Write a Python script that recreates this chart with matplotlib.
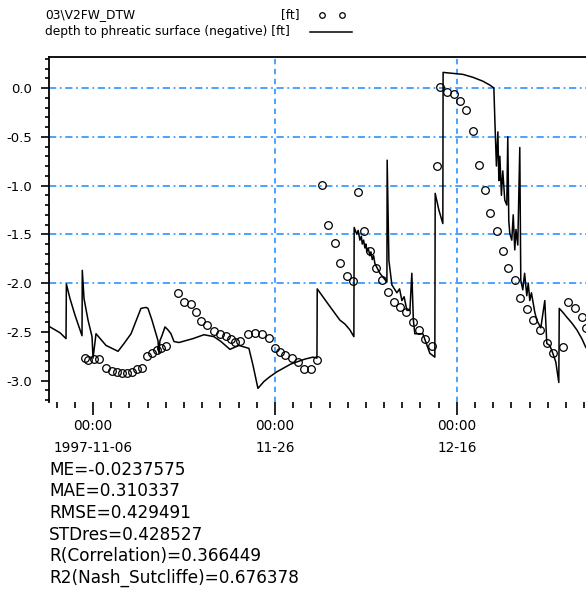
import matplotlib
matplotlib.use("Agg")
import matplotlib.pyplot as plt
import numpy as np
import datetime as dt

# ---- data (days since 1997-11-06 00:00, values in ft) ----
base = dt.datetime(1997, 11, 6)
obs_days = [-0.88, -0.55, 0.11, 0.66, 1.43, 2.09, 2.64, 3.19, 3.74, 4.29, 4.84, 5.38,
            5.93, 6.48, 7.03, 7.47, 8.02, 9.34, 10.0, 10.77, 11.32, 11.87, 12.53,
            13.30, 13.96, 14.62, 15.16, 15.60, 16.15, 17.03, 17.80, 18.57, 19.34,
            20.0, 20.55, 21.10, 21.87, 22.53, 23.19, 23.96, 24.62, 25.16, 25.82,
            26.59, 27.14, 27.91, 28.57, 29.12, 29.78, 30.44, 31.1, 31.76, 32.42,
            33.08, 33.74, 34.40, 35.16, 35.82, 36.48, 37.25, 37.80, 38.13, 38.90,
            39.67, 40.33, 40.99, 41.76, 42.42, 43.08, 43.63, 44.40, 45.05, 45.60,
            46.37, 46.92, 47.69, 48.35, 49.1, 49.9, 50.55, 51.65, 52.20, 52.97,
            53.74, 54.18]
obs_vals = [-2.77, -2.79, -2.78, -2.78, -2.87, -2.90, -2.91, -2.92, -2.92, -2.91, -2.88, -2.87,
            -2.75, -2.72, -2.69, -2.67, -2.65, -2.10, -2.19, -2.21, -2.30, -2.39, -2.43,
            -2.49, -2.52, -2.54, -2.57, -2.60, -2.59, -2.52, -2.51, -2.52, -2.56,
            -2.67, -2.71, -2.74, -2.77, -2.81, -2.88, -2.88, -2.79, -0.99, -1.40,
            -1.59, -1.79, -1.93, -1.98, -1.07, -1.47, -1.67, -1.85, -1.97, -2.09,
            -2.19, -2.25, -2.30, -2.40, -2.48, -2.57, -2.65, -0.80, 0.01, -0.04,
            -0.06, -0.13, -0.23, -0.44, -0.79, -1.05, -1.28, -1.47, -1.67, -1.85,
            -1.97, -2.15, -2.27, -2.38, -2.48, -2.62, -2.72, -2.66, -2.19, -2.26,
            -2.35, -2.46]

sim_days = [-4.73, -4.18, -3.63, -2.97, -2.93, -2.53, -1.98, -1.43, -1.21, -1.18, -0.99,
            -0.55, -0.11, 0.0, 0.33, 1.43, 2.75, 3.41, 4.18, 5.27, 5.82, 6.04, 6.48,
            7.14, 7.25, 7.36, 7.58, 7.91, 8.24, 8.57, 8.90, 9.45, 10.99, 12.20, 13.30,
            14.07, 15.05, 16.04, 17.14, 17.58, 18.13, 18.79, 19.45, 20.22, 21.76,
            23.30, 24.18, 24.62, 24.65, 26.04, 27.14, 27.69, 28.24, 28.68, 28.71,
            29.0, 29.15, 29.34, 29.5, 29.6, 29.75, 29.89, 30.0, 30.1, 30.25, 30.44,
            30.55, 30.7, 30.85, 30.99, 31.54, 32.31, 32.34, 32.53,
            32.86, 33.41, 33.7, 33.96, 34.2, 34.51, 34.84, 35.05, 35.22, 35.38, 35.93,
            36.26, 37.03, 37.58, 37.62, 38.02, 38.46, 38.49, 39.56, 40.66, 41.76,
            42.86, 43.63, 44.07, 44.18, 44.35, 44.51, 44.62, 44.73, 44.9, 45.05,
            45.27, 45.49, 45.60, 45.71, 45.82, 46.04, 46.2, 46.37, 46.5, 46.70,
            46.92, 47.03, 47.25, 47.45, 47.69, 47.85, 48.02, 48.2,
            48.57, 48.79, 49.23, 49.67, 49.89, 50.22, 50.55, 50.88, 51.21, 51.26,
            51.65, 52.09, 52.64, 53.19, 53.74, 54.18]
sim_vals = [-2.45, -2.48, -2.51, -2.57, -2.01, -2.16, -2.33, -2.48, -2.54, -1.87, -2.16,
            -2.38, -2.55, -2.77, -2.52, -2.64, -2.70, -2.62, -2.52, -2.26, -2.25, -2.26, -2.38,
            -2.59, -2.72, -2.59, -2.54, -2.45, -2.48, -2.52, -2.60, -2.61, -2.57, -2.53, -2.55,
            -2.60, -2.68, -2.64, -2.67, -2.84, -3.08, -3.01, -2.96, -2.91, -2.83,
            -2.78, -2.76, -2.77, -2.06, -2.24, -2.38, -2.42, -2.48, -2.55, -1.43,
            -1.50, -1.46, -1.56, -1.52, -1.60, -1.56, -1.64, -1.60, -1.68, -1.64, -1.72,
            -1.68, -1.76, -1.72, -1.80, -1.90, -1.99, -0.74, -1.77,
            -2.02, -2.10, -2.06, -2.18, -2.14, -2.28, -2.28, -1.90, -2.38, -2.52, -2.52,
            -2.52, -2.72, -2.76, -1.08, -1.25, -1.39, 0.16, 0.15, 0.14, 0.11,
            0.07, 0.03, 0.0, -0.33, -0.80, -0.45, -0.95, -0.70, -1.10, -0.85,
            -1.15, -1.20, -0.50, -1.36, -1.49, -1.56, -1.30, -1.66, -1.45, -1.61,
            -0.61, -1.97, -2.07, -1.90, -2.13, -2.00, -2.18, -2.10,
            -2.30, -2.38, -2.46, -2.18, -2.62, -2.64, -2.72, -2.81, -3.02, -2.26,
            -2.30, -2.35, -2.41, -2.48, -2.57, -2.66]

ytick_vals = [0.0, -0.5, -1.0, -1.5, -2.0, -2.5, -3.0]
ytick_labels = ["0.0", "-0.5", "-1.0", "-1.5", "-2.0", "-2.5", "-3.0"]
grid_y = [0.0, -0.5, -1.0, -1.5, -2.0]
xtick_dates = [dt.datetime(1997, 11, 6), dt.datetime(1997, 11, 26), dt.datetime(1997, 12, 16)]
xtick_labels = ["00:00\n1997-11-06", "00:00\n11-26", "00:00\n12-16"]
grid_x = [dt.datetime(1997, 11, 26), dt.datetime(1997, 12, 16)]

series_obs = "03\\V2FW_DTW"
series_sim = "depth to phreatic surface (negative)"
unit = "[ft]"
stats = ["ME=-0.0237575", "MAE=0.310337", "RMSE=0.429491", "STDres=0.428527",
         "R(Correlation)=0.366449", "R2(Nash_Sutcliffe)=0.676378"]

obs_t = [base + dt.timedelta(days=d) for d in obs_days]
sim_t = [base + dt.timedelta(days=d) for d in sim_days]

plt.rcParams['font.family'] = ['DejaVu Sans']
fig = plt.figure(figsize=(5.86, 6.04), dpi=100)
ax = fig.add_axes([49/586, 202/604, 1 - 49/586, 345/604])

gridc = '#3d9bff'
for gy in grid_y:
    ax.axhline(gy, color=gridc, lw=1.3, ls=(0, (4, 2, 1, 2)), zorder=1)
for gx in grid_x:
    ax.axvline(gx, color=gridc, lw=1.3, ls=(0, (3, 2.5)), zorder=1, clip_on=False)

ax.plot(sim_t, sim_vals, color='black', lw=1.1, zorder=3)
ax.plot(obs_t, obs_vals, ls='none', marker='o', ms=5.5, mfc='none', mec='black', mew=0.9, zorder=4)

ax.set_xlim(base + dt.timedelta(days=-4.84), base + dt.timedelta(days=54.2))
ax.set_ylim(-3.22, 0.318)

ax.set_yticks(ytick_vals)
ax.set_yticklabels(ytick_labels, fontsize=9.5)
ax.set_yticks(np.arange(-3.2, 0.35, 0.1), minor=True)
ax.set_xticks(xtick_dates)
ax.set_xticklabels(xtick_labels, fontsize=9.8, linespacing=1.75)
ax.set_xticks([base + dt.timedelta(days=k) for k in range(-4, 55, 2)], minor=True)

ax.tick_params(axis='y', which='major', length=6, width=1.2, direction='out', pad=6)
ax.tick_params(axis='y', which='minor', length=3, width=1.2, direction='out')
ax.tick_params(axis='x', which='major', length=9, width=1.2, direction='out', pad=3)
ax.tick_params(axis='x', which='minor', length=4, width=1.2, direction='out', pad=3)

for s in ['right', 'bottom']:
    ax.spines[s].set_visible(False)
ax.spines['left'].set_linewidth(1.3)
ax.spines['top'].set_linewidth(1.3)

# legend (manual, as in the reference)
fs_leg = 8.8
fig.text(45/586, 1 - 15/604, series_obs, fontsize=fs_leg, va='center', ha='left')
fig.text(300/586, 1 - 15/604, unit, fontsize=fs_leg, va='center', ha='right')
fig.text(45/586, 1 - 32/604, series_sim + " " + unit, fontsize=fs_leg, va='center', ha='left')
lax = fig.add_axes([300/586, 1 - 40/604, 60/586, 30/604])
lax.set_xlim(300, 360)
lax.set_ylim(40, 10)
lax.axis('off')
lax.plot([322, 342], [15, 15], ls='none', marker='o', ms=4, mfc='none', mec='black', mew=0.9)
lax.plot([310, 352], [32, 32], color='black', lw=1.1)

# statistics text
for i, s in enumerate(stats):
    fig.text(49/586, 1 - (470 + i * 21.5)/604, s, fontsize=12.2, va='center', ha='left')

fig.savefig("out.png", dpi=100)
